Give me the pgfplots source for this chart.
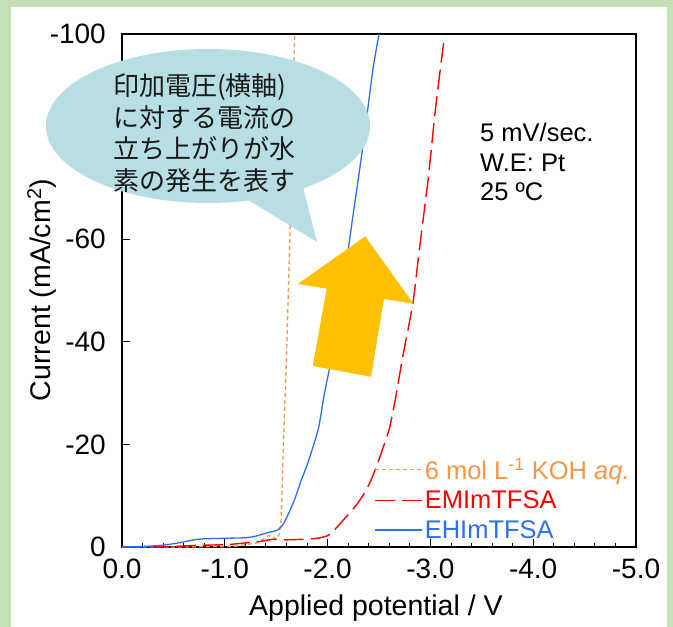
\documentclass[border=0pt]{standalone}
\usepackage{pgfplots}
\pgfplotsset{compat=1.18}
\usepackage{fontspec}
\setmainfont{Liberation Sans}
\newfontfamily\jpfont{Noto Sans CJK JP}
\definecolor{bggreen}{HTML}{C5E0B4}
\definecolor{bubble}{HTML}{B7DEE2}
\definecolor{arrowor}{HTML}{FFC000}
\definecolor{kohor}{HTML}{F79646}
\definecolor{emred}{HTML}{FF0000}
\definecolor{ehblue}{HTML}{2E6FF2}
\begin{document}
\begin{tikzpicture}[x=1pt,y=1pt]
\fill[bggreen] (0,0) rectangle (673,627);
\fill[white] (11,0) rectangle (667,620);
\begin{axis}[
  at={(122pt,80pt)}, anchor=south west,
  scale only axis, width=514pt, height=513pt,
  xmin=-5, xmax=0, ymin=-100, ymax=0,
  x dir=reverse, y dir=reverse,
  axis line style={line width=1.1pt, black},
  tick pos=left,
  xtick={0,-1,-2,-3,-4,-5},
  xticklabels={0.0,-1.0,-2.0,-3.0,-4.0,-5.0},
  ytick={0,-20,-40,-60,-80,-100},
  yticklabels={0,-20,-40,-60,-80,-100},
  minor x tick num=4,
  major tick length=8pt, minor tick length=4pt,
  tick style={line width=0.9pt, black},
  ticklabel style={font=\fontsize{28}{32}\selectfont, inner sep=0pt},
  xticklabel style={yshift=-12pt},
  yticklabel style={xshift=-16pt},
  every axis y label/.style={at={(axis description cs:-0.140,0.501)}, rotate=90, anchor=base},
  every axis x label/.style={at={(axis description cs:0.494,-0.1326)}, anchor=base},
  label style={font=\fontsize{28.5}{32}\selectfont},
  xlabel={Applied potential / V},
  ylabel={Current (mA/cm\textsuperscript{2})},
  legend style={draw=none, fill=none, at={(axis description cs:0.992,0.010)}, anchor=south east,
    font=\fontsize{25.5}{29}\selectfont, inner sep=0pt, row sep=6pt},
  legend cell align=left,
  legend image code/.code={\draw[#1] (0pt,0pt) -- (47pt,0pt);},
]
\addplot[kohor, line width=1.3pt, dash pattern=on 4pt off 3pt] coordinates {
(0,0) (-0.5,0) (-0.86,-0.05) (-1.08,-0.1) (-1.22,-0.5) (-1.31,-0.8) (-1.38,-1.6) (-1.42,-2.2) (-1.46,-2.1) (-1.5,-1.5) (-1.53,-2.5) (-1.545,-4.5) (-1.555,-9) (-1.57,-20) (-1.60,-37) (-1.64,-65) (-1.67,-93) (-1.68,-100)};
\addlegendentry{\textcolor{kohor}{6 mol L\textsuperscript{-1} KOH \textit{aq.}}}
\addplot[emred, line width=1.4pt, dash pattern=on 20pt off 7pt, smooth, tension=0.3] coordinates {
(0,0) (-0.3,0) (-0.5,-0.1) (-0.7,-0.3) (-0.9,-0.4) (-1.05,-0.5) (-1.2,-0.8) (-1.35,-1.1) (-1.47,-1.5) (-1.6,-1.4) (-1.75,-1.5) (-1.9,-1.7) (-2.0,-2.2) (-2.06,-3.2) (-2.12,-4.5) (-2.2,-6.3) (-2.28,-8.2) (-2.35,-10.2) (-2.42,-12.9) (-2.49,-16.5) (-2.6,-23) (-2.67,-30) (-2.73,-37) (-2.83,-47.5) (-2.89,-57.5) (-2.98,-72) (-3.05,-85.5) (-3.13,-98.5)};
\addlegendentry{\textcolor{emred}{EMImTFSA}}
\addplot[ehblue, line width=1.3pt, smooth, tension=0.3] coordinates {
(0,0) (-0.2,-0.1) (-0.4,-0.35) (-0.55,-0.8) (-0.7,-1.4) (-0.8,-1.6) (-1.0,-1.7) (-1.2,-1.8) (-1.3,-2.1) (-1.4,-2.7) (-1.5,-3.2) (-1.53,-3.6) (-1.57,-4.5) (-1.62,-6.5) (-1.68,-9.3) (-1.74,-12.8) (-1.81,-16.5) (-1.91,-23) (-1.97,-30) (-2.04,-37) (-2.15,-51) (-2.25,-65) (-2.35,-79) (-2.44,-93) (-2.5,-100)};
\addlegendentry{\textcolor{ehblue}{EHImTFSA}}
\end{axis}
% callout bubble
\fill[bubble] (208,501) ellipse [x radius=162, y radius=77];
\fill[bubble] (240,432) -- (317,385) -- (303,440) -- cycle;
\begin{scope}[every node/.style={anchor=base west, inner sep=0pt, text=black!90, font=\jpfont\fontsize{26}{31}\selectfont}]
\node at (113,531) {印加電圧(横軸)};
\node at (113,499.5) {に対する電流の};
\node at (113,468) {立ち上がりが水};
\node at (113,436) {素の発生を表す};
\end{scope}
% big arrow
\fill[arrowor] (365.3,390.6) -- (413.3,323.4) -- (384,328) -- (371,250.2) -- (312.7,261) -- (326.7,338.4) -- (297.7,343) -- cycle;
% conditions
\begin{scope}[every node/.style={anchor=base west, inner sep=0pt, font=\fontsize{25.5}{29}\selectfont}]
\node at (480,485) {5 mV/sec.};
\node at (480,455) {W.E: Pt};
\node at (480,426) {25 ºC};
\end{scope}
\end{tikzpicture}
\end{document}
